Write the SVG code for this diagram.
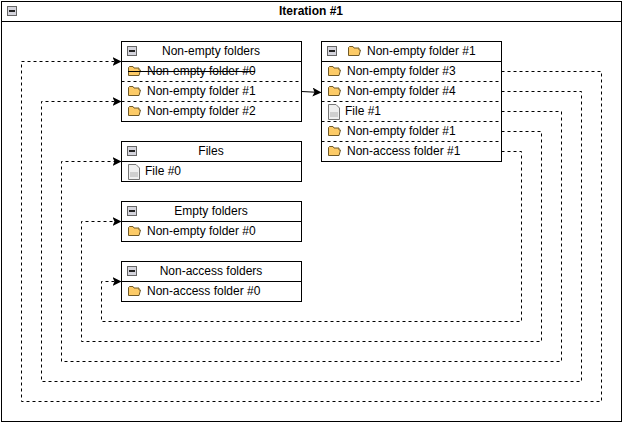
<svg xmlns="http://www.w3.org/2000/svg" width="623" height="423" viewBox="0 0 623 423">
<style>
text{font-family:"Liberation Sans",Arial,sans-serif;font-size:12px;fill:#000}
.b{fill:#fff;stroke:#000;stroke-width:1}
.l{fill:none;stroke:#000;stroke-width:1}
.d{fill:none;stroke:#000;stroke-width:1;stroke-dasharray:3 3}
.m{text-anchor:middle}
</style>
<defs>
<marker id="a" markerUnits="userSpaceOnUse" markerWidth="10" markerHeight="10" refX="9" refY="4.5" orient="auto"><path d="M0 0L9 4.5L0 9L2 4.5Z" fill="#000"/></marker>
<g id="col"><rect x="0.5" y="0.5" width="9" height="9" fill="#d4d4dc" stroke="#666"/><rect x="2" y="4" width="6" height="2" fill="#222"/></g>
<g id="fold"><path d="M0.5 10.5L0.5 2.5L1.5 1.5L5 1.5L6 3L11 3L11 5L12.5 5L11 10.5Z" fill="#fdcb67" stroke="#705a28"/></g>
<g id="file"><path d="M0.5 0.5L8 0.5L11.5 4L11.5 15.5L0.5 15.5Z" fill="#f0f0f0" stroke="#777"/><rect x="2" y="8" width="8" height="5" fill="#d0d0d0"/></g>
</defs>
<g id="iteration">
<rect class="b" x="1.5" y="1.5" width="620" height="420"/>
<path class="l" d="M1.5 21.5H621.5"/>
<use href="#col" x="7" y="6"/>
<text x="311" y="15" class="m" font-weight="bold" style="font-weight:bold">Iteration #1</text>
</g>
<g id="nonempty-folders">
<rect class="b" x="121.5" y="41.5" width="180" height="80"/>
<path class="l" d="M121.5 61.5H301.5"/>
<path class="d" d="M121.5 81.5H301.5M121.5 101.5H301.5"/>
<use href="#col" x="127" y="46"/>
<text x="211" y="55" class="m">Non-empty folders</text>
<use href="#fold" x="128" y="65"/><text x="147" y="75">Non-empty folder #0</text>
<path class="l" d="M128 71.5H255"/>
<use href="#fold" x="128" y="85"/><text x="147" y="95">Non-empty folder #1</text>
<use href="#fold" x="128" y="105"/><text x="147" y="115">Non-empty folder #2</text>
</g>
<g id="folder-1">
<rect class="b" x="321.5" y="41.5" width="180" height="120"/>
<path class="l" d="M321.5 61.5H501.5"/>
<path class="d" d="M321.5 81.5H501.5M321.5 101.5H501.5M321.5 121.5H501.5M321.5 141.5H501.5"/>
<use href="#col" x="327" y="46"/>
<use href="#fold" x="348" y="45"/><text x="367" y="55">Non-empty folder #1</text>
<use href="#fold" x="328" y="65"/><text x="347" y="75">Non-empty folder #3</text>
<use href="#fold" x="328" y="85"/><text x="347" y="95">Non-empty folder #4</text>
<use href="#file" x="328" y="104"/><text x="345" y="115">File #1</text>
<use href="#fold" x="328" y="125"/><text x="347" y="135">Non-empty folder #1</text>
<use href="#fold" x="328" y="145"/><text x="347" y="155">Non-access folder #1</text>
</g>
<g id="files">
<rect class="b" x="121.5" y="141.5" width="180" height="40"/>
<path class="l" d="M121.5 161.5H301.5"/>
<use href="#col" x="127" y="146"/>
<text x="211" y="155" class="m">Files</text>
<use href="#file" x="128" y="164"/><text x="145" y="175">File #0</text>
</g>
<g id="empty-folders">
<rect class="b" x="121.5" y="201.5" width="180" height="40"/>
<path class="l" d="M121.5 221.5H301.5"/>
<use href="#col" x="127" y="206"/>
<text x="211" y="215" class="m">Empty folders</text>
<use href="#fold" x="128" y="225"/><text x="147" y="235">Non-empty folder #0</text>
</g>
<g id="nonaccess-folders">
<rect class="b" x="121.5" y="261.5" width="180" height="40"/>
<path class="l" d="M121.5 281.5H301.5"/>
<use href="#col" x="127" y="266"/>
<text x="211" y="275" class="m">Non-access folders</text>
<use href="#fold" x="128" y="285"/><text x="147" y="295">Non-access folder #0</text>
</g>
<g id="connectors">
<path class="l" marker-end="url(#a)" d="M301.5 91.5L321.5 92.5"/>
<path class="d" marker-end="url(#a)" d="M501.5 71.5H601.5V401.5H21.5V61.5H121.5"/>
<path class="d" marker-end="url(#a)" d="M501.5 91.5H581.5V381.5H41.5V101.5H121.5"/>
<path class="d" marker-end="url(#a)" d="M501.5 111.5H561.5V361.5H61.5V161.5H121.5"/>
<path class="d" marker-end="url(#a)" d="M501.5 131.5H541.5V341.5H81.5V221.5H121.5"/>
<path class="d" marker-end="url(#a)" d="M501.5 151.5H521.5V321.5H101.5V281.5H121.5"/>
</g>
</svg>
